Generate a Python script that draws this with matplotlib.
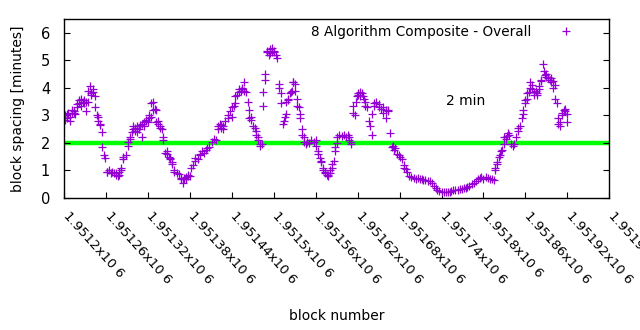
import matplotlib
matplotlib.use("Agg")
import matplotlib.pyplot as plt
from matplotlib.transforms import ScaledTranslation

plt.rcParams['font.family'] = ['DejaVu Sans']

base_block = 1951200
block_offsets = [
    1, 2, 4, 5, 6, 8, 9, 11, 12, 14, 15, 16, 18, 19, 21, 22, 24, 25, 27, 28,
    29, 31, 32, 34, 35, 37, 38, 39, 41, 42, 44, 45, 47, 48, 49, 51, 52, 54, 55, 57,
    58, 61, 62, 65, 67, 69, 71, 74, 75, 77, 78, 79, 81, 82, 84, 85, 88, 91, 92, 94,
    95, 97, 98, 99, 101, 102, 104, 105, 107, 108, 109, 111, 112, 114, 115, 117, 118, 120, 121, 122,
    124, 125, 127, 128, 130, 131, 132, 134, 135, 137, 138, 140, 141, 142, 145, 147, 148, 150, 151, 152,
    154, 155, 157, 158, 161, 164, 167, 168, 170, 171, 172, 174, 175, 177, 178, 180, 182, 184, 187, 188,
    191, 194, 195, 198, 200, 203, 205, 208, 211, 214, 217, 220, 221, 223, 224, 225, 227, 228, 231, 234,
    235, 237, 240, 241, 243, 244, 245, 248, 250, 251, 253, 254, 255, 257, 258, 260, 263, 264, 265, 267,
    268, 271, 273, 274, 275, 277, 278, 280, 281, 283, 284, 285, 287, 288, 290, 291, 293, 294, 295, 297,
    298, 300, 301, 303, 304, 307, 308, 310, 311, 313, 314, 316, 317, 318, 320, 321, 323, 324, 326, 327,
    328, 330, 331, 333, 334, 336, 337, 338, 340, 341, 343, 344, 346, 348, 351, 354, 357, 360, 361, 363,
    364, 366, 367, 368, 370, 371, 373, 374, 376, 377, 378, 380, 381, 383, 384, 386, 387, 388, 390, 391,
    394, 397, 400, 403, 406, 407, 408, 410, 411, 413, 414, 416, 417, 419, 420, 421, 423, 424, 426, 427,
    429, 430, 431, 434, 437, 438, 440, 441, 443, 444, 447, 450, 451, 454, 456, 457, 460, 461, 463, 464,
    466, 469, 470, 472, 474, 477, 479, 480, 483, 486, 487, 489, 491, 494, 497, 500, 503, 506, 509, 512,
    514, 517, 520, 523, 526, 529, 532, 534, 537, 540, 543, 546, 549, 552, 554, 557, 560, 563, 566, 569,
    572, 575, 577, 580, 583, 586, 589, 592, 595, 597, 600, 603, 606, 609, 612, 615, 616, 617, 619, 620,
    622, 623, 625, 626, 629, 630, 632, 633, 635, 636, 639, 642, 643, 646, 649, 650, 652, 655, 656, 657,
    659, 660, 662, 663, 665, 666, 667, 669, 670, 672, 673, 675, 676, 677, 679, 680, 682, 683, 685, 686,
    688, 689, 690, 692, 693, 695, 696, 697, 699, 700, 702, 703, 705, 706, 707, 709, 710, 712, 713, 715,
    716, 717, 719, 720,
]
spacing_minutes = [
    3.0, 2.85, 3.05, 2.9, 3.1, 2.95, 2.8, 3.1, 3.2, 3.1, 3.15, 3.05, 3.3, 3.4, 3.55, 3.45, 3.6, 3.35, 3.5, 3.45,
    3.55, 3.5, 3.15, 3.5, 3.9, 4.05, 3.8, 3.75, 3.95, 3.85, 3.7, 3.3, 3.0, 2.95, 2.8, 2.65, 2.7, 2.4, 1.85, 1.55,
    1.45, 0.95, 0.95, 1.0, 0.9, 0.95, 0.9, 0.92, 0.85, 0.8, 0.95, 0.85, 1.0, 1.1, 1.4, 1.5, 1.55, 1.9, 2.05, 2.15,
    2.2, 2.4, 2.5, 2.6, 2.45, 2.55, 2.4, 2.6, 2.5, 2.65, 2.6, 2.2, 2.7, 2.75, 2.6, 2.8, 2.85, 2.75, 2.9, 3.0,
    2.95, 3.45, 3.5, 3.2, 3.25, 3.2, 2.75, 2.8, 2.7, 2.55, 2.6, 2.5, 2.2, 2.1, 1.65, 1.7, 1.6, 1.5, 1.45, 1.4,
    1.3, 1.25, 1.0, 0.95, 0.9, 0.88, 0.7, 0.72, 0.55, 0.68, 0.72, 0.7, 0.75, 0.8, 0.85, 0.8, 1.1, 1.2, 1.35, 1.45,
    1.4, 1.55, 1.6, 1.7, 1.65, 1.75, 1.8, 1.85, 2.05, 2.15, 2.1, 2.5, 2.6, 2.7, 2.55, 2.65, 2.5, 2.6, 2.8, 2.9,
    3.0, 3.15, 2.95, 3.3, 3.35, 3.45, 3.7, 3.75, 3.85, 3.95, 3.9, 4.0, 3.95, 4.2, 3.9, 3.85, 3.5, 3.2, 2.9, 2.95,
    2.85, 2.6, 2.55, 2.45, 2.3, 2.2, 2.1, 1.95, 1.9, 1.95, 3.35, 3.85, 4.5, 4.3, 5.35, 5.3, 5.2, 5.4, 5.25, 5.3,
    5.45, 5.35, 5.3, 5.2, 5.1, 4.15, 4.0, 3.8, 3.45, 2.7, 2.8, 2.95, 3.05, 3.5, 3.6, 3.55, 3.8, 3.85, 3.9, 4.2,
    4.2, 4.15, 3.9, 3.6, 3.35, 3.3, 3.05, 2.9, 2.5, 2.3, 2.2, 2.05, 1.95, 2.05, 2.0, 2.1, 2.05, 2.1, 1.9, 1.7,
    1.6, 1.45, 1.35, 1.3, 1.1, 1.0, 0.95, 0.9, 0.85, 0.8, 0.85, 0.9, 1.0, 1.1, 1.25, 1.35, 1.7, 1.85, 2.0, 2.2,
    2.3, 2.25, 2.3, 2.2, 2.3, 2.1, 2.2, 1.95, 2.05, 3.1, 3.35, 3.0, 3.5, 3.7, 3.8, 3.75, 3.85, 3.7, 3.8, 3.7,
    3.6, 3.5, 3.35, 3.3, 2.8, 2.6, 2.3, 3.05, 3.35, 3.45, 3.5, 3.4, 3.3, 3.25, 3.1, 3.3, 3.2, 2.9, 3.2, 3.15,
    2.35, 1.85, 1.9, 1.75, 1.8, 1.6, 1.55, 1.5, 1.4, 1.2, 1.1, 1.05, 0.95, 0.8, 0.75, 0.72, 0.7, 0.72, 0.7, 0.68,
    0.65, 0.65, 0.62, 0.6, 0.55, 0.45, 0.38, 0.3, 0.25, 0.22, 0.2, 0.2, 0.22, 0.2, 0.25, 0.28, 0.3, 0.3, 0.32, 0.33,
    0.35, 0.38, 0.4, 0.45, 0.5, 0.55, 0.6, 0.68, 0.72, 0.75, 0.7, 0.75, 0.72, 0.7, 0.68, 0.65, 1.0, 1.1, 1.25, 1.3,
    1.5, 1.55, 1.7, 1.75, 1.95, 2.2, 2.15, 2.25, 2.35, 2.3, 1.95, 1.9, 1.95, 2.2, 2.45, 2.55, 2.6, 2.9, 3.05, 3.2,
    3.45, 3.55, 3.6, 3.8, 3.85, 4.0, 4.2, 4.1, 3.95, 3.75, 3.85, 3.9, 3.8, 3.75, 3.95, 4.05, 4.25, 4.3, 4.85, 4.6,
    4.45, 4.4, 4.5, 4.35, 4.4, 4.3, 4.35, 4.2, 4.25, 4.0, 4.1, 3.6, 3.45, 2.9, 2.7, 2.75, 2.6, 3.0, 3.1, 3.2,
    3.25, 3.15, 3.05, 2.75,
]
blocks = [base_block + o for o in block_offsets]

target_minutes = 2
x_ticks = [1951200 + 60 * i for i in range(14)]
x_tick_labels = ["1.9512x10 6", "1.95126x10 6", "1.95132x10 6", "1.95138x10 6",
                 "1.95144x10 6", "1.9515x10 6", "1.95156x10 6", "1.95162x10 6",
                 "1.95168x10 6", "1.95174x10 6", "1.9518x10 6", "1.95186x10 6",
                 "1.95192x10 6", "1.95198x10 6"]
y_ticks = [0, 1, 2, 3, 4, 5, 6]
series_label = "8 Algorithm Composite - Overall"
annotation = "2 min"

FS = 9.5
fig = plt.figure(figsize=(6.4, 3.3), dpi=100)
ax = fig.add_axes([0.1, 0.4, 0.852, 0.5424])

ax.axhline(target_minutes, xmin=0.005, xmax=0.995, color='#00ff00', linewidth=3.2, zorder=1)
ax.plot(blocks, spacing_minutes, linestyle='none', marker='+', markersize=6,
        markeredgewidth=0.9, color='#9400d3', label=series_label, zorder=2)

ax.set_xlim(1951200, 1951980)
ax.set_ylim(0, 6.5)
ax.set_xticks(x_ticks)
ax.set_xticklabels([])
lbl_tr = ax.get_xaxis_transform() + ScaledTranslation(6 / 100, -11 / 100, fig.dpi_scale_trans)
for t, lab in zip(x_ticks, x_tick_labels):
    ax.text(t, 0, lab, transform=lbl_tr, rotation=-48, rotation_mode='anchor',
            ha='left', va='top', fontsize=FS, clip_on=False)
ax.set_yticks(y_ticks)
ax.set_yticklabels([str(v) for v in y_ticks], fontsize=FS + 1)
ax.tick_params(axis='both', direction='in', length=4, width=0.8, color='black')
ax.tick_params(axis='y', right=True, pad=10)
for s in ax.spines.values():
    s.set_linewidth(1.0)

ax.text(1951746, 3.53, annotation, ha='left', va='center', fontsize=FS + 0.5)

ax.set_ylabel("block spacing [minutes]", fontsize=FS + 0.5, labelpad=11)
ax.set_xlabel("block number", fontsize=FS + 0.5, va='center')
ax.xaxis.set_label_coords(0.5, -0.662)

ax.legend(loc='upper right', bbox_to_anchor=(0.9565, 1.0), frameon=False,
          markerfirst=False, fontsize=FS + 0.3, handletextpad=1.55,
          borderaxespad=0.0, handlelength=2.0, borderpad=0.45)

fig.savefig("out.png", dpi=100)
